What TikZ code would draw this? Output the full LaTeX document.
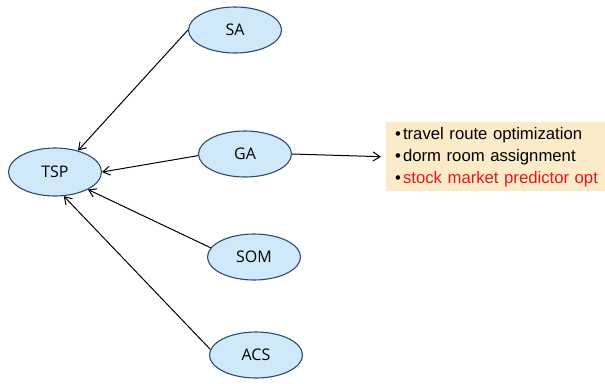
\documentclass[tikz,border=0pt]{standalone}
\usepackage{fontspec}
\setmainfont{Liberation Sans}
\newfontfamily\labelfont{Open Sans}
\usetikzlibrary{shapes.geometric,arrows.meta}
\definecolor{nodefill}{HTML}{CFE8FA}
\definecolor{nodeline}{HTML}{2E4A78}
\definecolor{boxfill}{HTML}{FCEBC8}
\definecolor{hotred}{HTML}{E8141B}
\tikzset{
  algo/.style={ellipse, draw=nodeline, fill=nodefill, line width=1.1pt,
    minimum width=93pt, minimum height=46pt, inner sep=0pt,
    font=\labelfont\fontsize{16}{18}\selectfont},
  link/.style={draw=black, line width=1pt, -{Straight Barb[length=7pt,width=9pt]}},
}
\begin{document}
\begin{tikzpicture}[x=1pt,y=-1pt]
\useasboundingbox (0,0) rectangle (605,383);
\node[algo, minimum height=48pt] (tsp) at (55,172) {TSP};
\node[algo] (sa)  at (235,30) {SA};
\node[algo] (ga)  at (245,154) {GA};
\node[algo] (som) at (254,257) {SOM};
\node[algo] (acs) at (256,355) {ACS};
\node[fill=boxfill, anchor=north west, inner sep=0pt, minimum width=220pt, minimum height=69pt,
      text width=212pt, align=left, font=\fontsize{16.7}{22}\selectfont]
  (apps) at (386,122) {\hspace*{5pt}•\hspace{2pt}travel route optimization\\
  \hspace*{5pt}•\hspace{2pt}dorm room assignment\\
  \hspace*{5pt}•\hspace{2pt}\textcolor{hotred}{stock market predictor opt}};
\draw[link] (sa.180) -- (tsp.43);
\draw[link] (ga.182) -- (tsp.0);
\draw[link] (som.168) -- (tsp.-28);
\draw[link] (acs.173) -- (tsp.-70);
\draw[link] (ga.east) -- ([xshift=-5pt]apps.west);
\end{tikzpicture}
\end{document}
